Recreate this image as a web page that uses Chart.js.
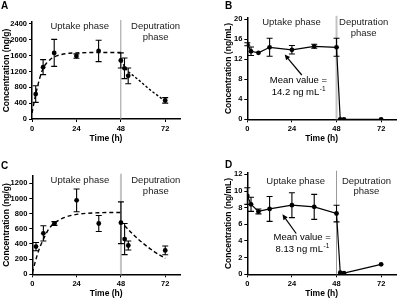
<!DOCTYPE html>
<html>
<head>
<meta charset="utf-8">
<script src="https://cdn.jsdelivr.net/npm/chart.js@4.4.1/dist/chart.umd.min.js"></script>
<style>
  body { margin: 0; background: #fff; width: 400px; height: 299px; position: relative; overflow: hidden; }
  canvas { position: absolute; }
</style>
</head>
<body>
<canvas id="cA" width="200" height="150" style="left:0;top:0"></canvas>
<canvas id="cB" width="200" height="150" style="left:200px;top:0"></canvas>
<canvas id="cC" width="200" height="149" style="left:0;top:150px"></canvas>
<canvas id="cD" width="200" height="149" style="left:200px;top:150px"></canvas>
<script>
Chart.defaults.font.family = '"Liberation Sans", Arial, sans-serif';
Chart.defaults.color = '#000';

// shared x axis
var xTicks = [0, 24, 48, 72];

// A: muscle, ng/g
var timeA = [2, 6, 12, 24, 36, 48, 50, 52, 72];
var concA = [630, 1310, 1670, 1590, 1720, 1480, 1280, 1090, 470];
var errA = [210, 190, 340, 55, 270, 190, 260, 200, 70];
var yTicksA = [0, 400, 800, 1200, 1600, 2000, 2400];
// fitted curves
var fitUpTimeA = [0, 2, 4, 6, 8, 10, 12, 16, 20, 24, 30, 36, 48];
var fitUpA = [150, 620, 1000, 1280, 1420, 1510, 1570, 1630, 1660, 1670, 1678, 1680, 1680];
var fitDepTimeA = [48, 50, 52, 54, 56, 60, 64, 68, 72];
var fitDepA = [1480, 1330, 1200, 1120, 1050, 890, 730, 590, 450];

// B: plasma, ng/mL
var timeB = [0, 2, 6, 12, 24, 36, 48, 50, 52, 72];
var concB = [15.0, 13.6, 13.3, 14.4, 13.9, 14.6, 14.4, 0, 0, 0];
var errB = [0.3, 0.85, 0, 1.8, 0.85, 0.4, 1.8, 0, 0, 0];
var yTicksB = [0, 4, 8, 12, 16, 20];

// C: muscle, ng/g
var timeC = [2, 6, 12, 24, 36, 48, 50, 52, 72];
var concC = [365, 540, 670, 975, 670, 680, 465, 380, 315];
var errC = [55, 100, 25, 150, 105, 275, 205, 60, 58];
var yTicksC = [0, 200, 400, 600, 800, 1000, 1200];
var fitUpTimeC = [0, 2, 4, 6, 8, 10, 12, 16, 20, 24, 30, 36, 42, 48];
var fitUpC = [20, 200, 350, 460, 560, 630, 675, 735, 770, 790, 805, 812, 815, 815];
var fitDepTimeC = [50, 54, 58, 62, 66, 70, 72];
var fitDepC = [640, 540, 450, 370, 300, 240, 210];

// D: plasma, ng/mL
var timeD = [0, 2, 6, 12, 24, 36, 48, 50, 52, 72];
var concD = [9.4, 8.4, 7.55, 7.85, 8.3, 8.1, 7.3, 0.2, 0.15, 1.2];
var errD = [1.0, 0.85, 0.3, 1.5, 1.5, 1.5, 1.0, 0, 0, 0];
var yTicksD = [0, 2, 4, 6, 8, 10, 12];

function pts(t, v) {
    return t.map(function (x, i) { return { x: x, y: v[i] }; });
}

var deco = {
    id: 'deco',
    beforeDatasetsDraw: function (chart, args, o) {
        var ctx = chart.ctx, area = chart.chartArea, x = chart.scales.x;
        var xd = x.getPixelForValue(o.divider);
        ctx.save();
        ctx.strokeStyle = o.divColor;
        ctx.lineWidth = o.divWidth;
        ctx.beginPath();
        ctx.moveTo(xd, area.top - 2);
        ctx.lineTo(xd, area.bottom);
        ctx.stroke();
        ctx.restore();
    },
    afterDatasetsDraw: function (chart, args, o) {
        var ctx = chart.ctx, x = chart.scales.x, y = chart.scales.y;
        ctx.save();
        // error bars
        ctx.strokeStyle = '#000';
        ctx.lineWidth = 1.1;
        o.t.forEach(function (t, i) {
            if (!o.e[i]) return;
            var px = x.getPixelForValue(t);
            var hi = y.getPixelForValue(o.v[i] + o.e[i]);
            var lo = y.getPixelForValue(o.v[i] - o.e[i]);
            ctx.beginPath();
            ctx.moveTo(px, hi); ctx.lineTo(px, lo);
            ctx.moveTo(px - 3, hi); ctx.lineTo(px + 3, hi);
            ctx.moveTo(px - 3, lo); ctx.lineTo(px + 3, lo);
            ctx.stroke();
        });
        // phase labels
        ctx.fillStyle = '#222';
        ctx.font = '9.5px "Liberation Sans", Arial, sans-serif';
        ctx.textAlign = 'center';
        ctx.textBaseline = 'middle';
        o.labels.forEach(function (l) {
            ctx.fillText(l.text, x.getPixelForValue(l.x), y.getPixelForValue(l.y));
        });
        // panel letter
        ctx.fillStyle = '#000';
        ctx.font = 'bold 10px "Liberation Sans", Arial, sans-serif';
        ctx.textAlign = 'left';
        ctx.textBaseline = 'top';
        ctx.fillText(o.letter, o.letterPos[0], o.letterPos[1]);
        // mean value note with arrow
        if (o.note) {
            var n = o.note;
            var tx = x.getPixelForValue(n.tail[0]), ty = y.getPixelForValue(n.tail[1]);
            var hx = x.getPixelForValue(n.head[0]), hy = y.getPixelForValue(n.head[1]);
            var ang = Math.atan2(hy - ty, hx - tx);
            ctx.strokeStyle = '#000';
            ctx.lineWidth = 1.2;
            ctx.beginPath();
            ctx.moveTo(tx, ty);
            ctx.lineTo(hx - 4 * Math.cos(ang), hy - 4 * Math.sin(ang));
            ctx.stroke();
            ctx.beginPath();
            ctx.moveTo(hx, hy);
            ctx.lineTo(hx - 6 * Math.cos(ang - 0.45), hy - 6 * Math.sin(ang - 0.45));
            ctx.lineTo(hx - 6 * Math.cos(ang + 0.45), hy - 6 * Math.sin(ang + 0.45));
            ctx.closePath();
            ctx.fill();

            var cx = x.getPixelForValue(n.x);
            ctx.font = '9.5px "Liberation Sans", Arial, sans-serif';
            ctx.textAlign = 'center';
            ctx.textBaseline = 'middle';
            ctx.fillText(n.line1, cx, y.getPixelForValue(n.y1));
            var y2 = y.getPixelForValue(n.y2);
            var w1 = ctx.measureText(n.line2).width;
            ctx.font = '6.5px "Liberation Sans", Arial, sans-serif';
            var w2 = ctx.measureText(n.sup).width;
            var sx = cx - (w1 + w2) / 2;
            ctx.textAlign = 'left';
            ctx.fillText(n.sup, sx + w1 + 0.5, y2 - 3.5);
            ctx.font = '9.5px "Liberation Sans", Arial, sans-serif';
            ctx.fillText(n.line2, sx, y2);
        }
        ctx.restore();
    }
};

function panel(id, p) {
    var datasets = [];
    (p.curves || []).forEach(function (c) {
        datasets.push({
            type: 'line',
            data: pts(c.t, c.v),
            borderColor: '#000',
            borderWidth: 1.4,
            borderDash: c.dash,
            pointRadius: 0,
            cubicInterpolationMode: 'monotone',
            fill: false
        });
    });
    datasets.push({
        type: 'line',
        data: pts(p.t, p.v),
        showLine: p.joined,
        borderColor: '#000',
        borderWidth: 1.2,
        pointRadius: 2.4,
        pointBackgroundColor: '#000',
        pointBorderWidth: 0,
        tension: 0,
        fill: false
    });
    var plain = function (v) { return String(v); };
    return new Chart(document.getElementById(id), {
        type: 'scatter',
        data: { datasets: datasets },
        plugins: [deco],
        options: {
            responsive: false,
            animation: false,
            layout: { padding: p.pad },
            plugins: {
                legend: { display: false },
                tooltip: { enabled: false },
                deco: {
                    t: p.t, v: p.v, e: p.e,
                    divider: 48, divColor: p.divColor, divWidth: p.divWidth,
                    labels: p.labels, letter: p.letter, letterPos: p.letterPos,
                    note: p.note
                }
            },
            scales: {
                x: {
                    type: 'linear',
                    min: 0,
                    max: 80,
                    afterBuildTicks: function (s) { s.ticks = xTicks.map(function (v) { return { value: v }; }); },
                    afterFit: function (s) { s.height = p.xh; },
                    grid: { drawOnChartArea: false, tickLength: 3, tickColor: '#000', tickWidth: 1 },
                    border: { color: '#000', width: 1.5 },
                    ticks: { font: { size: 7.5, weight: 'bold' }, padding: 2, maxRotation: 0, autoSkip: false, callback: plain },
                    title: { display: true, text: 'Time (h)', font: { size: 8.5, weight: 'bold' }, padding: { top: 0, bottom: p.xtPad } }
                },
                y: {
                    type: 'linear',
                    min: 0,
                    max: p.ymax,
                    afterBuildTicks: function (s) { s.ticks = p.yTicks.map(function (v) { return { value: v }; }); },
                    afterFit: function (s) { s.width = p.yw; },
                    grid: { drawOnChartArea: false, tickLength: 3, tickColor: '#000', tickWidth: 1 },
                    border: { color: '#000', width: 1.5 },
                    ticks: { font: { size: 7.5, weight: 'bold' }, padding: 2, callback: plain },
                    title: { display: true, text: p.ytitle, font: { size: 8.5, weight: 'bold' }, padding: { top: 2, bottom: 0 } }
                }
            }
        }
    });
}

panel('cA', {
    t: timeA, v: concA, e: errA, joined: false,
    curves: [
        { t: fitUpTimeA, v: fitUpA, dash: [4, 3] },
        { t: fitDepTimeA, v: fitDepA, dash: [2.5, 2] }
    ],
    ymax: 2450, yTicks: yTicksA, ytitle: 'Concentration (ng/g)',
    pad: { left: 0, top: 22, right: 20, bottom: 0 }, yw: 32, xh: 31, xtPad: 6,
    divColor: '#9a9a9a', divWidth: 1,
    letter: 'A', letterPos: [1, 1],
    labels: [
        { text: 'Uptake phase', x: 25.8, y: 2350 },
        { text: 'Deputration', x: 66.8, y: 2350 },
        { text: 'phase', x: 66.8, y: 2060 }
    ]
});

panel('cB', {
    t: timeB, v: concB, e: errB, joined: true,
    ymax: 20.3, yTicks: yTicksB, ytitle: 'Concentration (ng/mL)',
    pad: { left: 22, top: 17.8, right: 2.7, bottom: 0 }, yw: 25.3, xh: 30.7, xtPad: 6,
    divColor: '#c4c4c4', divWidth: 2,
    letter: 'B', letterPos: [25, 1],
    labels: [
        { text: 'Uptake phase', x: 23.8, y: 19.3 },
        { text: 'Deputration', x: 62.6, y: 19.3 },
        { text: 'phase', x: 62.6, y: 17.2 }
    ],
    note: { line1: 'Mean value =', line2: '14.2 ng mL', sup: '-1', x: 27.5, y1: 7.7, y2: 5.4, tail: [29.3, 8.86], head: [20.1, 12.95] }
});

panel('cC', {
    t: timeC, v: concC, e: errC, joined: false,
    curves: [
        { t: fitUpTimeC, v: fitUpC, dash: [4, 3] },
        { t: fitDepTimeC, v: fitDepC, dash: [4, 2.5] }
    ],
    ymax: 1300, yTicks: yTicksC, ytitle: 'Concentration (ng/g)',
    pad: { left: 0, top: 25.7, right: 20, bottom: 0 }, yw: 32.3, xh: 24.7, xtPad: 0,
    divColor: '#c4c4c4', divWidth: 2,
    letter: 'C', letterPos: [1, 11],
    labels: [
        { text: 'Uptake phase', x: 25.8, y: 1234 },
        { text: 'Deputration', x: 66.9, y: 1234 },
        { text: 'phase', x: 66.9, y: 1089 }
    ]
});

panel('cD', {
    t: timeD, v: concD, e: errD, joined: true,
    ymax: 12.2, yTicks: yTicksD, ytitle: 'Concentration (ng/mL)',
    pad: { left: 22, top: 22.7, right: 2.7, bottom: 0 }, yw: 25.3, xh: 24.7, xtPad: 0,
    divColor: '#9a9a9a', divWidth: 1,
    letter: 'D', letterPos: [25, 10],
    labels: [
        { text: 'Uptake phase', x: 26, y: 11.2 },
        { text: 'Deputration', x: 64.1, y: 11.2 },
        { text: 'phase', x: 64.1, y: 9.9 }
    ],
    note: { line1: 'Mean value =', line2: '8.13 ng mL', sup: '-1', x: 29.5, y1: 4.45, y2: 3.0, tail: [26.3, 4.9], head: [18.9, 7.2] }
});
</script>
</body>
</html>
